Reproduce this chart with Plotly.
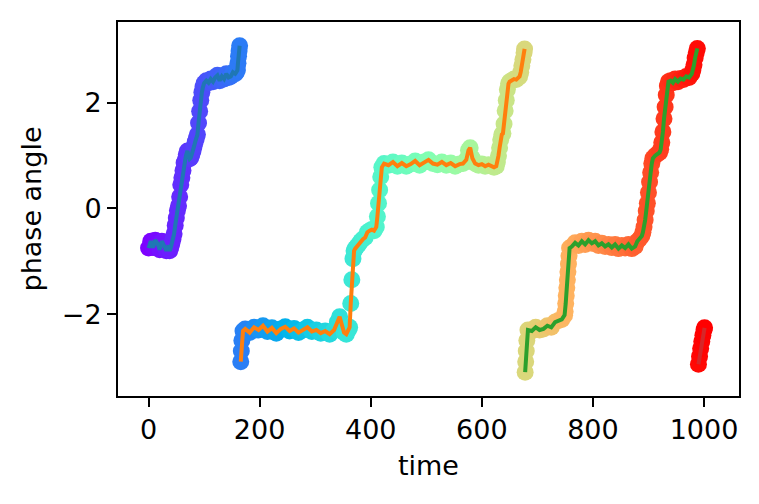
import numpy as np
import plotly.graph_objects as go

# phase readings, one list per wrap of the line
t1 = [0, 4, 8, 12, 16, 20, 24, 28, 32, 36, 38, 40, 42, 44, 46, 48, 50, 52, 54, 56,
      58, 60, 62, 64, 66, 68, 70, 72, 74, 76, 78, 80, 82, 84, 86, 88, 90, 92, 94,
      96, 98, 100, 104, 108, 112, 116, 120, 124, 128, 132, 136, 140, 144, 148, 152,
      156, 158, 160, 161, 162, 163, 164]
p1 = [-0.75, -0.62, -0.74, -0.60, -0.66, -0.78, -0.62, -0.72, -0.80, -0.70, -0.80,
      -0.74, -0.66, -0.58, -0.48, -0.32, -0.18, -0.04, 0.05, 0.22, 0.45, 0.58, 0.72,
      0.86, 0.92, 1.02, 1.09, 1.00, 0.94, 0.96, 1.02, 1.09, 1.18, 1.26, 1.33, 1.40,
      1.62, 1.84, 2.05, 2.20, 2.30, 2.37, 2.42, 2.38, 2.45, 2.40, 2.48, 2.52, 2.42,
      2.50, 2.45, 2.55, 2.48, 2.50, 2.58, 2.55, 2.58, 2.62, 2.75, 2.88, 2.98, 3.08]

t2 = [166, 167, 168, 170, 174, 182, 190, 198, 206, 214, 222, 230, 238, 246, 254,
      262, 270, 278, 286, 294, 302, 310, 318, 326, 334, 340, 344, 348, 352, 356,
      360, 362, 364, 366, 368, 370, 372, 375, 378, 382, 386, 390, 394, 398, 402,
      406, 410, 412, 414, 416, 418, 420, 424, 432, 440, 448, 456, 464, 472, 480,
      488, 496, 504, 512, 520, 528, 536, 544, 552, 560, 566, 572, 576, 579, 583,
      588, 594, 600, 606, 612, 618, 622, 626, 628, 630, 632, 634, 636, 638, 640,
      642, 644, 646, 648, 650, 654, 658, 662, 666, 668, 670, 672, 674, 676, 677]
p2 = [-2.90, -2.70, -2.50, -2.32, -2.28, -2.35, -2.25, -2.30, -2.22, -2.33, -2.26,
      -2.36, -2.28, -2.24, -2.32, -2.27, -2.35, -2.30, -2.25, -2.33, -2.30, -2.36,
      -2.32, -2.38, -2.30, -2.15, -2.05, -2.20, -2.35, -2.38, -2.30, -2.25, -1.80,
      -1.35, -0.95, -0.80, -0.76, -0.72, -0.68, -0.62, -0.58, -0.55, -0.45, -0.42,
      -0.40, -0.42, -0.35, -0.15, 0.10, 0.35, 0.60, 0.78, 0.85, 0.82, 0.88, 0.80,
      0.86, 0.80, 0.84, 0.90, 0.82, 0.88, 0.92, 0.85, 0.83, 0.88, 0.82, 0.86, 0.80,
      0.84, 0.85, 0.92, 1.10, 1.15, 0.95, 0.85, 0.82, 0.84, 0.80, 0.83, 0.80, 0.78,
      0.80, 0.88, 1.00, 1.15, 1.30, 1.40, 1.42, 1.60, 1.85, 2.05, 2.25, 2.36, 2.40,
      2.42, 2.45, 2.44, 2.48, 2.50, 2.58, 2.70, 2.82, 2.95, 3.02]

t3 = [678, 679, 680, 681, 683, 690, 697, 704, 711, 718, 725, 732, 738, 744, 749,
      750, 751, 752, 753, 754, 755, 756, 757, 758, 762, 768, 774, 780, 786, 792,
      798, 804, 810, 816, 822, 828, 834, 840, 846, 852, 858, 864, 870, 876, 880,
      884, 888, 890, 892, 894, 896, 898, 900, 902, 904, 906, 908, 912, 916, 920,
      922, 924, 926, 928, 930, 932, 934, 936, 940, 944, 948, 953, 958, 963, 968,
      973, 978, 980, 982, 984, 986, 988]
p3 = [-3.10, -2.90, -2.70, -2.50, -2.30, -2.32, -2.25, -2.30, -2.28, -2.22, -2.25,
      -2.15, -2.12, -2.10, -2.02, -1.95, -1.80, -1.65, -1.50, -1.35, -1.20, -1.05,
      -0.90, -0.75, -0.72, -0.65, -0.70, -0.62, -0.68, -0.60, -0.66, -0.62, -0.70,
      -0.66, -0.72, -0.68, -0.74, -0.68, -0.76, -0.70, -0.75, -0.68, -0.76, -0.72,
      -0.62, -0.58, -0.52, -0.45, -0.35, -0.22, -0.05, 0.10, 0.30, 0.50, 0.68, 0.85,
      0.95, 1.00, 1.03, 1.06, 1.12, 1.25, 1.45, 1.70, 1.92, 2.15, 2.32, 2.40, 2.42,
      2.38, 2.45, 2.40, 2.46, 2.44, 2.50, 2.48, 2.55, 2.62, 2.72, 2.85, 2.95, 3.03]

t4 = [990, 992, 994, 996, 998, 1000, 1001]
p4 = [-2.95, -2.80, -2.65, -2.52, -2.40, -2.30, -2.26]

segments = [(t1, p1), (t2, p2), (t3, p3), (t4, p4)]
line_colors = ['#1f77b4', '#ff7f0e', '#2ca02c', '#d62728']

# matplotlib "rainbow" colormap as a plotly colorscale
xs = np.linspace(0, 1, 21)
rainbow = []
for x in xs:
    r = min(abs(2 * x - 0.5), 1)
    g = np.clip(np.sin(np.pi * x), 0, 1)
    b = np.clip(np.cos(np.pi * x / 2), 0, 1)
    rainbow.append([float(x), 'rgb(%d,%d,%d)' % (r * 255, g * 255, b * 255)])

t_all = t1 + t2 + t3 + t4
p_all = p1 + p2 + p3 + p4

fig = go.Figure()

# scatter of all points coloured by time
fig.add_trace(go.Scatter(
    x=t_all, y=p_all, mode='markers',
    marker=dict(size=17, color=t_all, colorscale=rainbow,
                cmin=min(t_all), cmax=max(t_all), line=dict(width=0)),
    showlegend=False
))

# one line per wrap
for (t, p), c in zip(segments, line_colors):
    fig.add_trace(go.Scatter(
        x=t, y=p, mode='lines',
        line=dict(color=c, width=4),
        showlegend=False
    ))

axis_style = dict(showline=True, mirror=True, linecolor='black', linewidth=2,
                  ticks='outside', ticklen=9, tickwidth=2, tickcolor='black',
                  showgrid=False, zeroline=False,
                  tickfont=dict(family='DejaVu Sans', size=27, color='black'))
title_font = dict(family='DejaVu Sans', size=27, color='black')

# page body adds ~8px offset, so margins are shifted to compensate
fig.update_layout(
    width=759, height=504,
    margin=dict(l=110, r=28, t=12, b=116),
    plot_bgcolor='white', paper_bgcolor='white',
    font=dict(family='DejaVu Sans', size=27, color='black'),
    xaxis=dict(range=[-55, 1063], tickvals=[0, 200, 400, 600, 800, 1000],
               title=dict(text='time', standoff=12, font=title_font), **axis_style),
    yaxis=dict(range=[-3.55, 3.53], tickvals=[-2, 0, 2],
               title=dict(text='phase angle', standoff=12, font=title_font), **axis_style),
)

fig.write_html("out.html")
